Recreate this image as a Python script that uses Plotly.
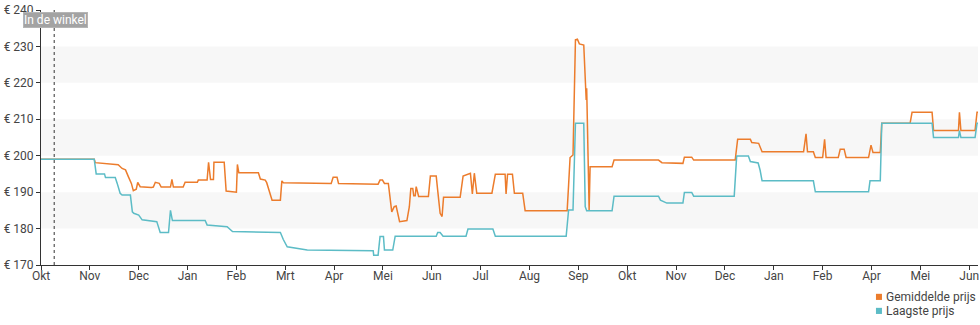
import plotly.graph_objects as go

# Month tick labels (uniform monthly ticks on a month-index axis)
month_labels = ["Okt", "Nov", "Dec", "Jan", "Feb", "Mrt", "Apr", "Mei", "Jun", "Jul",
                "Aug", "Sep", "Okt", "Nov", "Dec", "Jan", "Feb", "Apr", "Mei", "Jun"]
month_ticks = list(range(len(month_labels)))

y_ticks = [170, 180, 190, 200, 210, 220, 230, 240]
y_labels = ["€ %d" % v for v in y_ticks]

# Gemiddelde prijs (x in months since first tick, y in euro)
avg_x = [0.00, 1.09, 1.11, 1.48, 1.58, 1.66, 1.73, 1.79, 1.85, 1.89, 1.95, 1.98, 2.03, 2.26,
         2.30, 2.34, 2.42, 2.46, 2.65, 2.68, 2.71, 2.91, 2.95, 3.20, 3.22, 3.40, 3.43, 3.47,
         3.53, 3.54, 3.75, 3.79, 4.00, 4.02, 4.05, 4.45, 4.49, 4.59, 4.62, 4.73, 4.90, 4.93,
         4.96, 5.94, 5.98, 6.06, 6.09, 6.90, 6.94, 6.99, 7.03, 7.11, 7.18, 7.23, 7.27, 7.34,
         7.49, 7.54, 7.57, 7.61, 7.63, 7.66, 7.68, 7.73, 7.93, 7.97, 8.09, 8.12, 8.17, 8.21,
         8.24, 8.58, 8.64, 8.79, 8.83, 8.87, 8.92, 9.23, 9.30, 9.50, 9.52, 9.55, 9.65, 9.69,
         9.86, 9.91, 10.77, 10.80, 10.83, 10.89, 10.94, 10.98, 11.02, 11.11, 11.14, 11.16,
         11.17, 11.19, 11.22, 11.24, 11.69, 11.73, 12.64, 12.71, 13.14, 13.17, 13.32, 13.36,
         14.21, 14.26, 14.52, 14.55, 14.69, 14.76, 15.61, 15.66, 15.69, 15.81, 15.85, 16.00,
         16.04, 16.07, 16.32, 16.36, 16.44, 16.48, 16.94, 16.99, 17.03, 17.18, 17.21, 17.79,
         17.83, 18.24, 18.27, 18.78, 18.80, 18.83, 19.12, 19.16, 19.18]
avg_y = [199.0, 199.0, 198.1, 197.7, 197.5, 196.5, 196.1, 194.2, 192.4, 190.4, 190.8, 192.7,
         191.5, 191.3, 191.4, 192.7, 192.4, 191.4, 191.4, 193.5, 191.4, 191.4, 192.7, 192.7,
         193.3, 193.3, 198.2, 193.5, 193.5, 198.2, 198.2, 190.3, 190.0, 197.6, 195.3, 195.3,
         193.6, 193.3, 192.6, 187.8, 187.8, 193.1, 192.6, 192.4, 194.1, 194.1, 192.4, 192.2,
         193.3, 193.3, 192.4, 192.4, 184.6, 186.0, 186.2, 181.9, 182.2, 186.0, 191.0, 191.0,
         189.0, 189.0, 191.5, 188.8, 188.8, 194.4, 194.4, 190.5, 184.2, 183.3, 188.6, 188.6,
         194.4, 195.2, 189.5, 195.2, 189.7, 189.7, 194.9, 194.9, 189.5, 194.9, 194.9, 189.7,
         189.7, 184.9, 184.9, 192.0, 199.5, 200.2, 231.8, 232.0, 230.7, 230.4, 219.0, 215.3,
         218.5, 205.0, 185.1, 197.0, 197.0, 198.8, 198.8, 198.1, 197.9, 199.6, 199.6, 198.8,
         198.8, 204.5, 204.5, 203.6, 203.4, 201.1, 201.1, 206.0, 201.1, 201.1, 199.5, 199.5,
         204.5, 199.5, 199.5, 201.8, 201.8, 199.5, 199.5, 202.9, 200.9, 200.9, 208.9, 208.9,
         211.9, 211.9, 206.9, 206.9, 211.9, 206.9, 206.9, 211.9, 211.9]

# Laagste prijs
low_x = [0.00, 1.09, 1.13, 1.30, 1.32, 1.52, 1.56, 1.62, 1.66, 1.83, 1.87, 1.90, 2.00, 2.07,
         2.37, 2.43, 2.44, 2.61, 2.65, 2.69, 3.36, 3.40, 3.81, 3.92, 4.90, 4.96, 5.04, 5.45,
         6.80, 6.81, 6.90, 6.94, 7.01, 7.03, 7.20, 7.25, 8.09, 8.12, 8.17, 8.23, 8.70, 8.74,
         9.25, 9.30, 10.75, 10.80, 10.89, 10.94, 11.11, 11.14, 11.17, 11.69, 11.73, 12.64,
         12.68, 12.81, 13.14, 13.17, 13.32, 13.36, 14.19, 14.24, 14.48, 14.52, 14.68, 14.72,
         14.76, 15.81, 15.85, 16.94, 16.97, 17.18, 17.21, 18.24, 18.27, 18.78, 18.80, 18.83,
         19.12, 19.16, 19.18]
low_y = [199.0, 199.0, 195.0, 195.0, 194.0, 194.0, 192.4, 189.7, 189.2, 189.2, 184.6, 184.2,
         183.7, 182.4, 181.9, 179.6, 178.9, 178.9, 185.0, 182.2, 182.2, 181.0, 180.5, 179.2,
         178.9, 177.0, 175.0, 174.1, 173.9, 172.7, 172.7, 177.8, 177.8, 174.1, 174.1, 177.9,
         177.9, 178.9, 178.9, 177.9, 177.9, 179.9, 179.9, 177.9, 177.9, 185.1, 185.1, 208.9,
         208.9, 186.0, 184.9, 184.9, 188.9, 188.9, 187.8, 187.0, 187.0, 189.9, 189.9, 188.9,
         188.9, 199.9, 199.9, 198.4, 198.0, 196.0, 193.1, 193.1, 190.1, 190.1, 193.1, 193.1,
         208.9, 208.9, 205.0, 205.0, 206.9, 205.0, 205.0, 208.9, 208.9]

series_names = ["Gemiddelde prijs", "Laagste prijs"]
series_colors = ["#EC7C2C", "#5CBCC6"]
store_x = 0.27
store_label = "In de winkel"

fig = go.Figure()
fig.add_trace(go.Scatter(x=avg_x, y=avg_y, mode="lines", name=series_names[0],
                         line=dict(color=series_colors[0], width=1.5), showlegend=False))
fig.add_trace(go.Scatter(x=low_x, y=low_y, mode="lines", name=series_names[1],
                         line=dict(color=series_colors[1], width=1.5), showlegend=False))

shapes = []
for b0 in (180, 200, 220):
    shapes.append(dict(type="rect", xref="paper", yref="y", x0=0, x1=1, y0=b0, y1=b0 + 10,
                       fillcolor="#f7f7f7", line=dict(width=0), layer="below"))
shapes.append(dict(type="line", xref="x", yref="paper", x0=store_x, x1=store_x, y0=0, y1=1,
                   line=dict(color="#333", width=1, dash="dot")))

# legend squares + labels
leg_y = [-0.125, -0.180]
for i, (nm, col) in enumerate(zip(series_names, series_colors)):
    shapes.append(dict(type="rect", xref="paper", yref="paper", x0=0.8911, x1=0.8975,
                       y0=leg_y[i] - 0.012, y1=leg_y[i] + 0.012, fillcolor=col, line=dict(width=0)))

annotations = [dict(x=store_x + 0.03, y=237.25, xref="x", yref="y", text=store_label,
                    showarrow=False, bgcolor="#a3a3a3", bordercolor="#b5b5b5", borderwidth=1,
                    borderpad=0, font=dict(color="white", size=12, family="Roboto"))]
for i, nm in enumerate(series_names):
    annotations.append(dict(x=0.8997, y=leg_y[i], xref="paper", yref="paper", text=nm,
                            showarrow=False, xanchor="left", yanchor="middle",
                            font=dict(color="#444", size=12, family="Roboto")))

fig.update_layout(
    width=980, height=325,
    margin=dict(l=41, r=2, t=10, b=60),
    paper_bgcolor="white", plot_bgcolor="white",
    font=dict(family="Roboto", size=12, color="#444"),
    shapes=shapes, annotations=annotations,
    showlegend=False,
)
fig.update_xaxes(range=[0, 19.18], tickvals=month_ticks, ticktext=month_labels,
                 showline=True, linecolor="#333", linewidth=1, ticks="outside", ticklen=4,
                 tickcolor="#333", showgrid=False, zeroline=False, ticklabelstandoff=-4,
                 tickfont=dict(size=12, color="#444"))
fig.update_yaxes(range=[170, 240], tickvals=y_ticks, ticktext=y_labels,
                 showline=True, linecolor="#333", linewidth=1, ticks="outside", ticklen=4,
                 tickcolor="#333", showgrid=False, zeroline=False,
                 tickfont=dict(size=12, color="#444"))

fig.write_html("out.html")
